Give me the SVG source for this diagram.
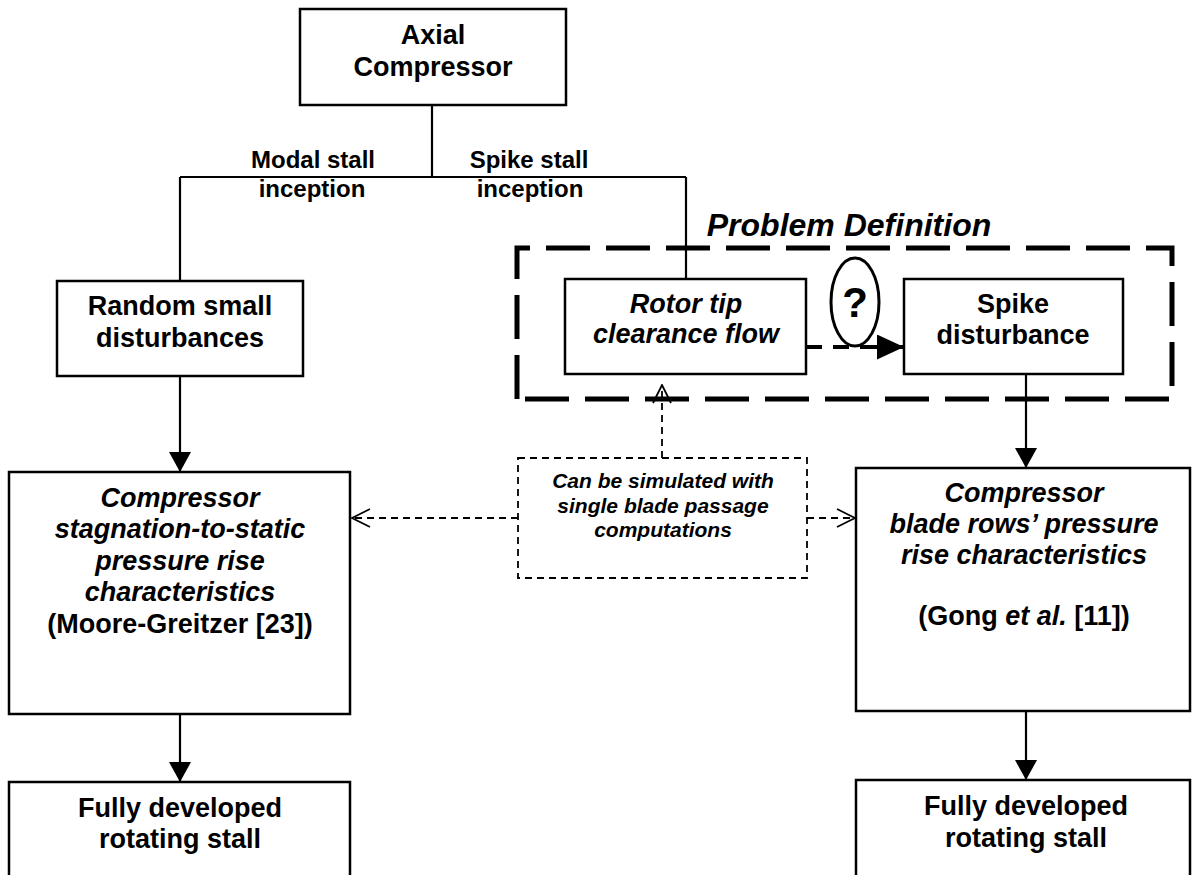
<svg xmlns="http://www.w3.org/2000/svg" width="1196" height="875" viewBox="0 0 1196 875">
<defs>
<style>
.box{fill:#fff;stroke:#000;stroke-width:2.5}
.t{font-family:"Liberation Sans",Arial,sans-serif;font-weight:bold;font-size:27px;text-anchor:middle;fill:#000}
.i{font-style:italic}
.lab{font-size:24px}
.small{font-size:21px}
.line{fill:none;stroke:#000;stroke-width:2.2}
.dash{fill:none;stroke:#000;stroke-width:1.8;stroke-dasharray:7 5}
</style>
<marker id="fa" viewBox="0 0 20 22" refX="20" refY="11" markerWidth="20" markerHeight="22" markerUnits="userSpaceOnUse" orient="auto">
<path d="M0,0 L20,11 L0,22 Z" fill="#000"/>
</marker>
<marker id="fb" viewBox="0 0 27 25" refX="27" refY="12.5" markerWidth="27" markerHeight="25" markerUnits="userSpaceOnUse" orient="auto">
<path d="M0,0 L27,12.5 L0,25 Z" fill="#000"/>
</marker>
<marker id="oa" viewBox="0 0 20 20" refX="19" refY="10" markerWidth="20" markerHeight="20" markerUnits="userSpaceOnUse" orient="auto">
<path d="M1,1 L19,10 L1,19" fill="none" stroke="#000" stroke-width="1.8"/>
</marker>
</defs>
<rect width="1196" height="875" fill="#fff"/>

<g id="connectors">
<path class="line" d="M432,105 V177 M180,177 H686 M180,177 V281 M686,177 V279"/>
<line class="line" x1="180" y1="376" x2="180" y2="472" marker-end="url(#fa)"/>
<line class="line" x1="180" y1="714" x2="180" y2="782" marker-end="url(#fa)"/>
<line class="line" x1="1026" y1="374" x2="1026" y2="468" marker-end="url(#fa)"/>
<line class="line" x1="1026" y1="711" x2="1026" y2="780" marker-end="url(#fa)"/>
<line x1="806" y1="347" x2="880" y2="347" stroke="#000" stroke-width="4" stroke-dasharray="16 11"/>
<line x1="870" y1="347" x2="904" y2="347" stroke="#000" stroke-width="4" marker-end="url(#fb)"/>
<line class="dash" x1="662" y1="458" x2="662" y2="385" marker-end="url(#oa)"/>
<line class="dash" x1="518" y1="518" x2="352" y2="518" marker-end="url(#oa)"/>
<line class="dash" x1="807" y1="518" x2="855" y2="518" marker-end="url(#oa)"/>
</g>

<g id="labels">
<text class="t lab" x="313" y="168">Modal stall</text>
<text class="t lab" x="312" y="197">inception</text>
<text class="t lab" x="529" y="168">Spike stall</text>
<text class="t lab" x="530" y="197">inception</text>
</g>

<g id="problem-definition">
<path d="M517,399 V248 H1172 V399 Z" fill="none" stroke="#000" stroke-width="5" stroke-dasharray="44 16"/>
<text class="t i" x="849" y="236" style="font-size:32px">Problem Definition</text>
</g>

<g id="axial">
<rect class="box" x="300" y="9" width="266" height="96"/>
<text class="t" x="433" y="44">Axial</text>
<text class="t" x="433" y="76">Compressor</text>
</g>

<g id="random">
<rect class="box" x="57" y="281" width="246" height="95"/>
<text class="t" x="180" y="315">Random small</text>
<text class="t" x="180" y="347">disturbances</text>
</g>

<g id="rotor">
<rect class="box" x="565" y="279" width="241" height="95"/>
<text class="t i" x="686" y="313">Rotor tip</text>
<text class="t i" x="686" y="343">clearance flow</text>
</g>

<g id="question">
<ellipse cx="855" cy="302" rx="24" ry="44" fill="#fff" stroke="#000" stroke-width="3"/>
<text class="t" x="855" y="317" style="font-size:42px">?</text>
</g>

<g id="spike">
<rect class="box" x="904" y="279" width="219" height="95"/>
<text class="t" x="1013" y="313">Spike</text>
<text class="t" x="1013" y="344">disturbance</text>
</g>

<g id="simulated">
<rect x="518" y="458" width="289" height="120" fill="#fff" stroke="#000" stroke-width="1.8" stroke-dasharray="7 5"/>
<text class="t i small" x="663" y="488">Can be simulated with</text>
<text class="t i small" x="663" y="513">single blade passage</text>
<text class="t i small" x="663" y="537">computations</text>
</g>

<g id="mg">
<rect class="box" x="9" y="472" width="341" height="242"/>
<text class="t i" x="180" y="507">Compressor</text>
<text class="t i" x="180" y="538">stagnation-to-static</text>
<text class="t i" x="180" y="570">pressure rise</text>
<text class="t i" x="180" y="601">characteristics</text>
<text class="t" x="180" y="633">(Moore-Greitzer [23])</text>
</g>

<g id="gong">
<rect class="box" x="856" y="468" width="334" height="243"/>
<text class="t i" x="1024" y="502">Compressor</text>
<text class="t i" x="1024" y="533">blade rows’ pressure</text>
<text class="t i" x="1024" y="564">rise characteristics</text>
<text class="t" x="1024" y="625">(Gong <tspan class="i">et al.</tspan> [11])</text>
</g>

<g id="stall-left">
<rect class="box" x="9" y="782" width="341" height="110"/>
<text class="t" x="180" y="817">Fully developed</text>
<text class="t" x="180" y="848">rotating stall</text>
</g>

<g id="stall-right">
<rect class="box" x="856" y="780" width="334" height="110"/>
<text class="t" x="1026" y="815">Fully developed</text>
<text class="t" x="1026" y="847">rotating stall</text>
</g>
</svg>
